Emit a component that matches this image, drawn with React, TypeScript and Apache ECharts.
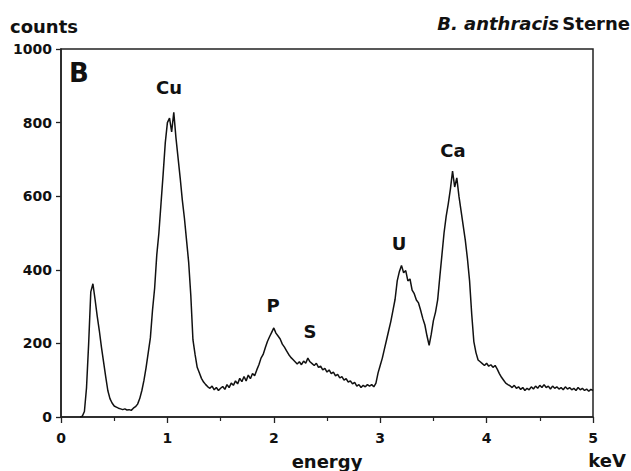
import React, { useEffect, useRef } from "react";
import * as echarts from "echarts";

// Spectrum channels: energy (keV) = START_KEV + i * STEP_KEV
const START_KEV = 0.18;
const STEP_KEV = 0.02;

const counts: number[] = [
  // 0.18 – 0.58
  0, 2, 15, 80, 200, 340, 362, 320, 275, 235, 190, 150, 110, 72, 50, 38, 30, 27, 24, 22, 20,
  // 0.60 – 0.98
  22, 19, 20, 18, 24, 28, 35, 50, 72, 100, 135, 175, 215, 290, 350, 440, 500, 580, 660, 745,
  // 1.00 – 1.38
  800, 812, 775, 828, 760, 705, 650, 590, 540, 480, 420, 330, 210, 170, 135, 120, 105, 95, 88, 82,
  // 1.40 – 1.78
  78, 84, 74, 80, 72, 78, 83, 75, 88, 80, 92, 86, 98, 90, 105, 96, 110, 98, 114, 104,
  // 1.80 – 2.18
  118, 112, 128, 142, 160, 170, 188, 205, 218, 230, 242, 228, 220, 212, 198, 190, 180, 170, 162, 156,
  // 2.20 – 2.58
  150, 144, 150, 142, 152, 146, 160, 150, 145, 140, 146, 135, 138, 128, 132, 122, 128, 118, 122, 112,
  // 2.60 – 2.98
  116, 106, 110, 100, 104, 95, 98, 90, 94, 84, 88, 80, 86, 82, 88, 84, 88, 82, 92, 120,
  // 3.00 – 3.38
  140, 160, 185, 210, 235, 260, 290, 320, 370, 395, 412, 392, 398, 370, 375, 345, 335, 318, 310, 290,
  // 3.40 – 3.78
  268, 250, 220, 195, 225, 262, 285, 318, 380, 440, 500, 545, 580, 620, 668, 625, 650, 600, 560, 520,
  // 3.80 – 4.18
  480, 430, 370, 280, 205, 175, 155, 150, 145, 140, 146, 138, 142, 135, 140, 130, 118, 108, 100, 92,
  // 4.20 – 4.58
  88, 85, 80, 86, 78, 82, 75, 80, 72, 78, 74, 82, 76, 84, 78, 86, 80, 88, 80, 84,
  // 4.60 – 5.00
  76, 84, 78, 82, 76, 80, 74, 82, 76, 80, 74, 78, 72, 80, 74, 78, 72, 76, 70, 75, 72,
];

const xTicks = [0, 1, 2, 3, 4, 5];
const yTicks = [0, 200, 400, 600, 800, 1000];

const peakLabels = ["Cu", "P", "S", "U", "Ca"];

const FONT = "DejaVu Sans";

export default function App() {
  const ref = useRef<HTMLDivElement>(null);

  useEffect(() => {
    if (!ref.current) return;
    const chart = echarts.init(ref.current, null, { renderer: "svg" });

    const points = counts.map((c, i) => [
      Number((START_KEV + i * STEP_KEV).toFixed(2)),
      c,
    ]);

    const labelPos: Record<string, [number, number]> = {
      Cu: [169, 87],
      P: [273, 305],
      S: [310, 331],
      U: [399, 243],
      Ca: [453, 150],
    };

    const textStyle = (size: number) => ({
      fill: "#111",
      font: `bold ${size}px "${FONT}"`,
      align: "center" as const,
      verticalAlign: "middle" as const,
    });

    chart.setOption({
      animation: false,
      backgroundColor: "#fff",
      grid: {
        left: 61,
        top: 49,
        width: 532,
        height: 368,
        show: true,
        borderColor: "#222",
        borderWidth: 1.5,
        backgroundColor: "transparent",
      },
      xAxis: {
        type: "value",
        min: xTicks[0],
        max: xTicks[xTicks.length - 1],
        interval: 1,
        axisLine: { show: true, lineStyle: { color: "#222", width: 1.5 } },
        axisTick: { show: true, length: 6, lineStyle: { color: "#222", width: 1.3 } },
        minorTick: { show: true, splitNumber: 2, length: 4, lineStyle: { color: "#222", width: 1.2 } },
        splitLine: { show: false },
        axisLabel: {
          margin: 14,
          color: "#111",
          fontFamily: FONT,
          fontWeight: "bold",
          fontSize: 14,
          formatter: (v: number) => String(v),
        },
      },
      yAxis: {
        type: "value",
        min: yTicks[0],
        max: yTicks[yTicks.length - 1],
        interval: 200,
        axisLine: { show: true, lineStyle: { color: "#222", width: 1.5 } },
        axisTick: { show: true, length: 5, lineStyle: { color: "#222", width: 1.3 } },
        splitLine: { show: false },
        axisLabel: {
          margin: 9,
          color: "#111",
          fontFamily: FONT,
          fontWeight: "bold",
          fontSize: 14,
          formatter: (v: number) => String(v),
        },
      },
      series: [
        {
          type: "line",
          data: points,
          showSymbol: false,
          symbol: "none",
          lineStyle: { color: "#111", width: 1.5 },
        },
      ],
      graphic: [
        {
          type: "text",
          left: 10,
          top: 17,
          style: { text: "counts", fill: "#111", font: `bold 18px "${FONT}"` },
        },
        {
          type: "text",
          right: 1,
          top: 14,
          style: {
            rich: {
              it: { fontFamily: FONT, fontWeight: "bold", fontStyle: "italic", fontSize: 18, fill: "#111" },
              n: { fontFamily: FONT, fontWeight: "bold", fontSize: 18, fill: "#111" },
            },
            text: "{it|B. anthracis} {n|Sterne}",
          },
        },
        {
          type: "text",
          x: 79,
          y: 73,
          style: { text: "B", ...textStyle(26) },
        },
        ...peakLabels.map((name) => ({
          type: "text",
          x: labelPos[name][0],
          y: labelPos[name][1],
          style: { text: name, ...textStyle(18) },
        })),
        {
          type: "text",
          x: 327,
          y: 461,
          style: { text: "energy", ...textStyle(18) },
        },
        {
          type: "text",
          x: 607,
          y: 460,
          style: { text: "keV", ...textStyle(18) },
        },
      ],
    });

    return () => chart.dispose();
  }, []);

  return (
    <div
      ref={ref}
      style={{ position: "fixed", left: 0, top: 0, width: 631, height: 471, background: "#fff" }}
    />
  );
}
